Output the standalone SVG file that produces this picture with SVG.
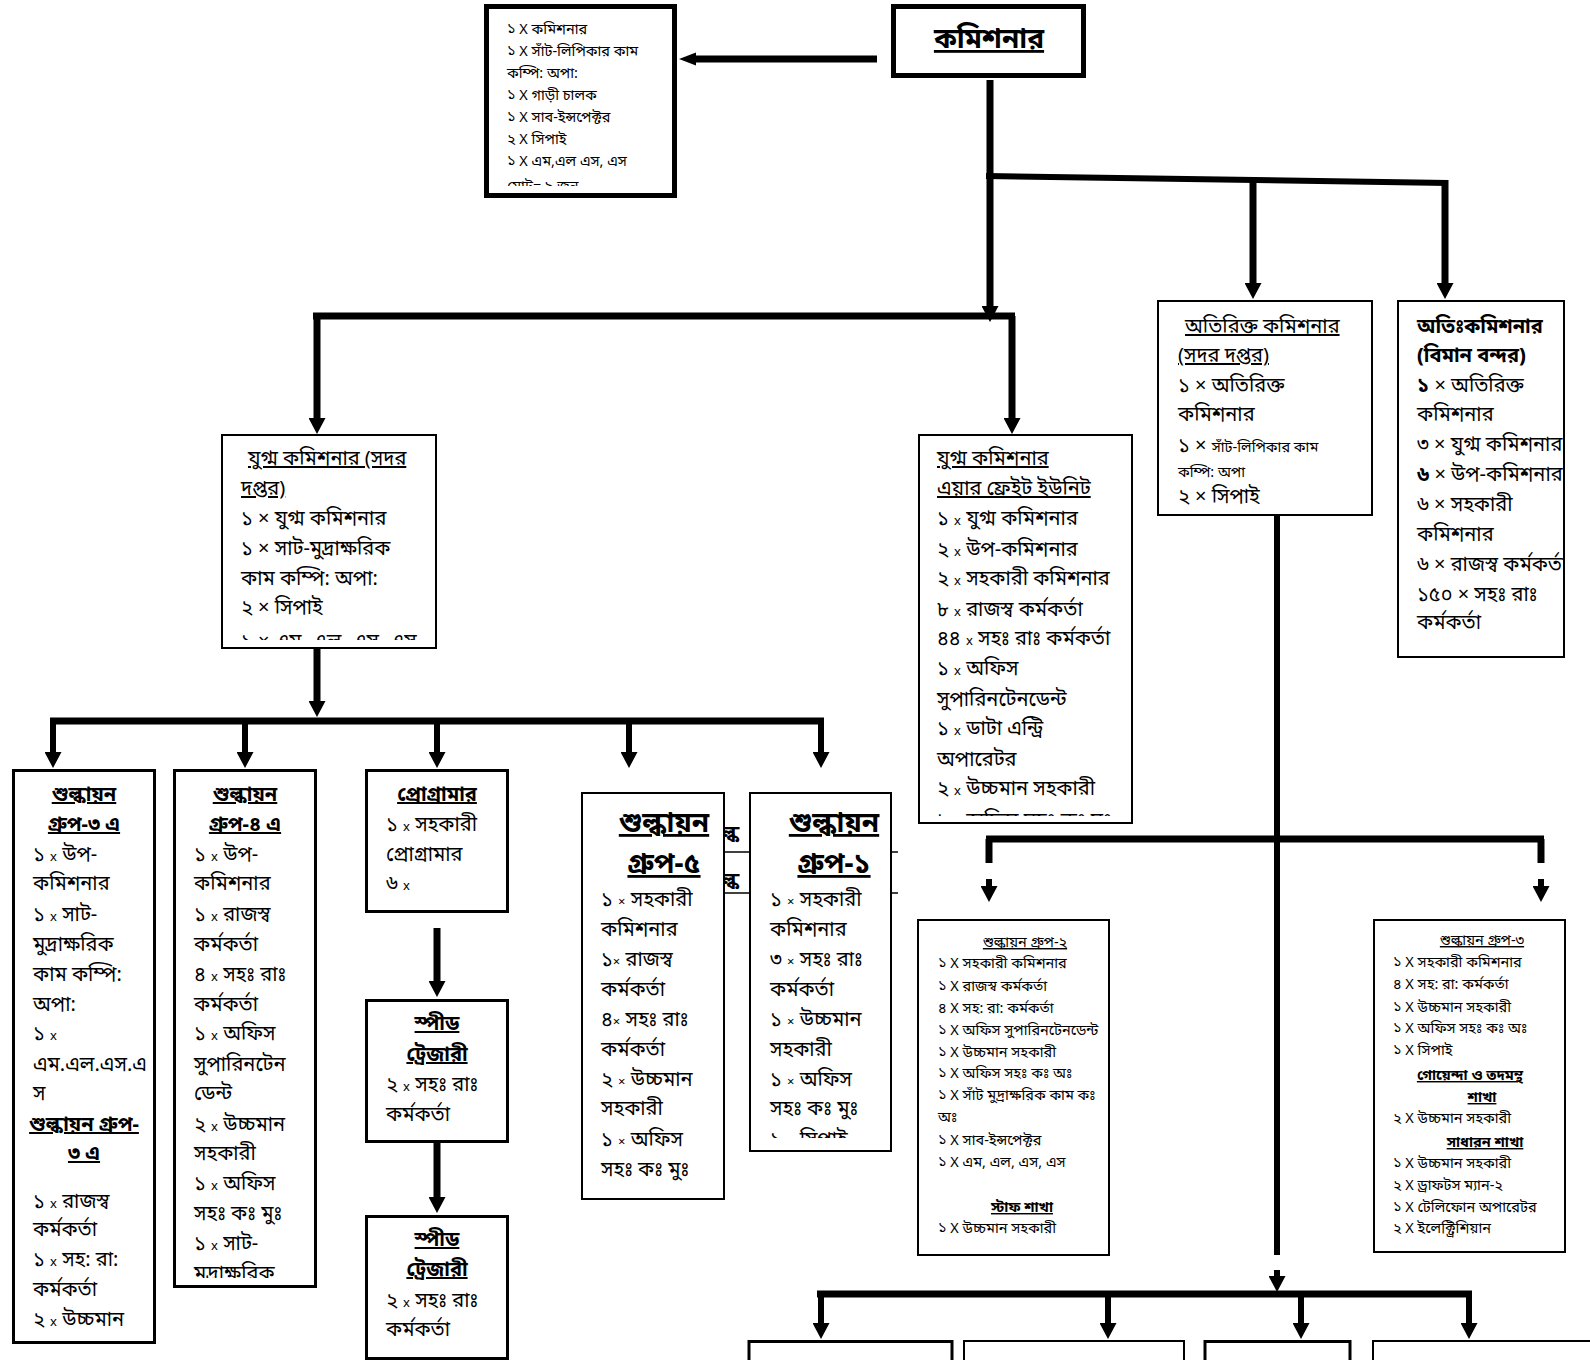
<svg xmlns="http://www.w3.org/2000/svg" width="1590" height="1360" viewBox="0 0 1590 1360">
<defs>
<style>
text{font-family:"Noto Sans Bengali","Noto Serif Bengali","Lohit Bengali","Kalpurush","SolaimanLipi","Vrinda","Noto Sans","DejaVu Sans",sans-serif;fill:#000;font-size:20px}
.sm{font-size:14.5px}
.bd{font-weight:bold}
.u{text-decoration:underline}
.m{text-anchor:middle}
.x{font-size:13px}
.big{font-size:28px;font-weight:bold;text-decoration:underline}
.box{fill:#fff;stroke:#000;stroke-width:2}
.box3{fill:#fff;stroke:#000;stroke-width:3}
.box5{fill:#fff;stroke:#000;stroke-width:5}
.ln{stroke:#000;fill:none;stroke-width:7}
.ln6{stroke:#000;fill:none;stroke-width:6}
.ah{marker-end:url(#ah)}
</style>
<marker id="ah" markerUnits="userSpaceOnUse" markerWidth="16" markerHeight="17" refX="0" refY="8.5" orient="auto" viewBox="0 0 16 17"><path d="M0,0 L16,8.5 L0,17 z" fill="#000"/></marker>
<clipPath id="cStaff"><rect x="489" y="9" width="183" height="177"/></clipPath>
<clipPath id="cYug"><rect x="222" y="435" width="214" height="205"/></clipPath>
<clipPath id="cAir"><rect x="919" y="435" width="213" height="381"/></clipPath>
<clipPath id="cOti"><rect x="1398" y="301" width="166" height="350"/></clipPath>
<clipPath id="c3a"><rect x="13" y="770" width="142" height="572"/></clipPath>
<clipPath id="c4a"><rect x="174" y="770" width="142" height="508"/></clipPath>
<clipPath id="cG1"><rect x="750" y="793" width="141" height="345"/></clipPath>
<clipPath id="cGap"><rect x="725" y="800" width="175" height="100"/></clipPath>
</defs>

<g id="connectors">
  <line x1="877" y1="59" x2="695" y2="59" class="ln" stroke-width="8"/>
  <polygon points="679,59 696,52.5 696,65.5" fill="#000"/>
  <line x1="990" y1="80" x2="990" y2="306" class="ln ah"/>
  <line x1="986" y1="176" x2="1448" y2="183" class="ln6"/>
  <line x1="1253" y1="178" x2="1253" y2="283" class="ln ah"/>
  <line x1="1445" y1="180" x2="1445" y2="283" class="ln ah"/>
  <line x1="313" y1="316" x2="1015" y2="316" class="ln"/>
  <line x1="317" y1="316" x2="317" y2="418" class="ln ah"/>
  <line x1="1012" y1="316" x2="1012" y2="418" class="ln ah"/>
  <line x1="317" y1="649" x2="317" y2="701" class="ln ah"/>
  <line x1="50" y1="721" x2="824" y2="721" class="ln"/>
  <line x1="53" y1="721" x2="53" y2="752" class="ln6 ah"/>
  <line x1="245" y1="721" x2="245" y2="752" class="ln6 ah"/>
  <line x1="437" y1="721" x2="437" y2="752" class="ln6 ah"/>
  <line x1="629" y1="721" x2="629" y2="752" class="ln6 ah"/>
  <line x1="821" y1="721" x2="821" y2="752" class="ln6 ah"/>
  <line x1="437" y1="928" x2="437" y2="981" class="ln ah"/>
  <line x1="437" y1="1143" x2="437" y2="1197" class="ln ah"/>
  <line x1="1277" y1="516" x2="1277" y2="1255" class="ln6"/>
  <line x1="986" y1="839" x2="1544" y2="839" class="ln"/>
  <line x1="989" y1="839" x2="989" y2="863" class="ln"/>
  <line x1="1541" y1="839" x2="1541" y2="863" class="ln"/>
  <line x1="989" y1="879" x2="989" y2="886" class="ln6 ah"/>
  <line x1="1541" y1="879" x2="1541" y2="886" class="ln6 ah"/>
  <line x1="1277" y1="1270" x2="1277" y2="1276" class="ln6 ah"/>
  <line x1="817" y1="1294" x2="1472" y2="1294" class="ln"/>
  <line x1="821" y1="1294" x2="821" y2="1323" class="ln6 ah"/>
  <line x1="1108" y1="1294" x2="1108" y2="1323" class="ln6 ah"/>
  <line x1="1301" y1="1294" x2="1301" y2="1323" class="ln6 ah"/>
  <line x1="1469" y1="1294" x2="1469" y2="1323" class="ln6 ah"/>
</g>

<g id="n-commissioner">
  <rect x="893.5" y="6.5" width="190" height="69" class="box5"/>
  <text x="989" y="48" class="big m">কমিশনার</text>
</g>

<g id="n-staff">
  <rect x="486.5" y="6.5" width="188" height="189" class="box5"/>
  <g clip-path="url(#cStaff)">
    <text x="507" y="34" class="sm">১ X কমিশনার</text>
    <text x="507" y="56" class="sm">১ X সাঁট-লিপিকার কাম</text>
    <text x="507" y="78" class="sm">কম্পি: অপা:</text>
    <text x="507" y="100" class="sm">১ X গাড়ী চালক</text>
    <text x="507" y="122" class="sm">১ X সাব-ইন্সপেক্টর</text>
    <text x="507" y="144" class="sm">২ X সিপাই</text>
    <text x="507" y="166" class="sm">১ X এম,এল এস, এস</text>
    <text x="507" y="191" class="sm">মোট= ৯ জন</text>
  </g>
</g>

<g id="n-yugma-hq">
  <rect x="222" y="435" width="214" height="213" class="box"/>
  <g clip-path="url(#cYug)">
    <text x="248" y="465" class="u">যুগ্ম কমিশনার (সদর</text>
    <text x="241" y="495" class="u">দপ্তর)</text>
    <text x="241" y="525">১ × যুগ্ম কমিশনার</text>
    <text x="241" y="555">১ × সাট-মুদ্রাক্ষরিক</text>
    <text x="241" y="585">কাম কম্পি: অপা:</text>
    <text x="241" y="614">২ × সিপাই</text>
    <text x="241" y="648">১ × এম, এল, এস, এস</text>
  </g>
</g>

<g id="n-yugma-air">
  <rect x="919" y="435" width="213" height="388" class="box"/>
  <g clip-path="url(#cAir)">
    <text x="937" y="465" class="u">যুগ্ম কমিশনার</text>
    <text x="937" y="495" class="u">এয়ার ফ্রেইট ইউনিট</text>
    <text x="937" y="525">১ <tspan class="x">x</tspan> যুগ্ম কমিশনার</text>
    <text x="937" y="556">২ <tspan class="x">x</tspan> উপ-কমিশনার</text>
    <text x="937" y="585">২ <tspan class="x">x</tspan> সহকারী কমিশনার</text>
    <text x="937" y="616">৮ <tspan class="x">x</tspan> রাজস্ব কর্মকর্তা</text>
    <text x="937" y="645">৪৪ <tspan class="x">x</tspan> সহঃ রাঃ কর্মকর্তা</text>
    <text x="937" y="675">১ <tspan class="x">x</tspan> অফিস</text>
    <text x="937" y="706">সুপারিনটেনডেন্ট</text>
    <text x="937" y="735">১ <tspan class="x">x</tspan> ডাটা এন্ট্রি</text>
    <text x="937" y="766">অপারেটর</text>
    <text x="937" y="795">২ <tspan class="x">x</tspan> উচ্চমান সহকারী</text>
    <text x="937" y="827">১ <tspan class="x">x</tspan> অফিস সহঃ কঃ মুঃ</text>
  </g>
</g>

<g id="n-addl-hq">
  <rect x="1158" y="301" width="214" height="214" class="box"/>
  <text x="1185" y="333" class="u">অতিরিক্ত কমিশনার</text>
  <text x="1178" y="362" class="u">(সদর দপ্তর)</text>
  <text x="1178" y="392">১ × অতিরিক্ত</text>
  <text x="1178" y="421">কমিশনার</text>
  <text x="1178" y="452">১ × <tspan class="sm">সাঁট-লিপিকার কাম</tspan></text>
  <text x="1178" y="477" class="sm">কম্পি: অপা</text>
  <text x="1178" y="503">২ × সিপাই</text>
</g>

<g id="n-addl-airport">
  <rect x="1398" y="301" width="166" height="356" class="box"/>
  <g clip-path="url(#cOti)">
    <text x="1417" y="333" class="bd">অতিঃকমিশনার</text>
    <text x="1417" y="362" class="bd">(বিমান বন্দর)</text>
    <text x="1417" y="392"><tspan class="bd">১</tspan> × অতিরিক্ত</text>
    <text x="1417" y="421">কমিশনার</text>
    <text x="1417" y="451">৩ × যুগ্ম কমিশনার</text>
    <text x="1417" y="481"><tspan class="bd">৬</tspan> × উপ-কমিশনার</text>
    <text x="1417" y="511">৬ × সহকারী</text>
    <text x="1417" y="541">কমিশনার</text>
    <text x="1417" y="571">৬ × রাজস্ব কর্মকর্তা</text>
    <text x="1417" y="601">১৫০ × সহঃ রাঃ</text>
    <text x="1417" y="629">কর্মকর্তা</text>
  </g>
</g>

<g id="n-group-3a">
  <rect x="13.5" y="770.5" width="141" height="572" class="box3"/>
  <g clip-path="url(#c3a)">
    <text x="84" y="801" class="bd u m">শুল্কায়ন</text>
    <text x="84" y="831" class="bd u m">গ্রুপ-৩ এ</text>
    <text x="33" y="861">১ <tspan class="x">x</tspan> উপ-</text>
    <text x="33" y="890">কমিশনার</text>
    <text x="33" y="921">১ <tspan class="x">x</tspan> সাট-</text>
    <text x="33" y="951">মুদ্রাক্ষরিক</text>
    <text x="33" y="981">কাম কম্পি:</text>
    <text x="33" y="1011">অপা:</text>
    <text x="33" y="1040">১ <tspan class="x">x</tspan></text>
    <text x="33" y="1071">এম.এল.এস.এ</text>
    <text x="33" y="1100">স</text>
    <text x="84" y="1131" class="bd u m">শুল্কায়ন গ্রুপ-</text>
    <text x="84" y="1160" class="bd u m">৩ এ</text>
    <text x="33" y="1208">১ <tspan class="x">x</tspan> রাজস্ব</text>
    <text x="33" y="1236">কর্মকর্তা</text>
    <text x="33" y="1266">১ <tspan class="x">x</tspan> সহ: রা:</text>
    <text x="33" y="1296">কর্মকর্তা</text>
    <text x="33" y="1326">২ <tspan class="x">x</tspan> উচ্চমান</text>
  </g>
</g>

<g id="n-group-4a">
  <rect x="174.5" y="770.5" width="141" height="516" class="box3"/>
  <g clip-path="url(#c4a)">
    <text x="245" y="801" class="bd u m">শুল্কায়ন</text>
    <text x="245" y="831" class="bd u m">গ্রুপ-৪ এ</text>
    <text x="194" y="861">১ <tspan class="x">x</tspan> উপ-</text>
    <text x="194" y="890">কমিশনার</text>
    <text x="194" y="921">১ <tspan class="x">x</tspan> রাজস্ব</text>
    <text x="194" y="951">কর্মকর্তা</text>
    <text x="194" y="981">৪ <tspan class="x">x</tspan>  সহঃ রাঃ</text>
    <text x="194" y="1011">কর্মকর্তা</text>
    <text x="194" y="1040">১ <tspan class="x">x</tspan> অফিস</text>
    <text x="194" y="1071">সুপারিনটেন</text>
    <text x="194" y="1100">ডেন্ট</text>
    <text x="194" y="1131">২ <tspan class="x">x</tspan> উচ্চমান</text>
    <text x="194" y="1160">সহকারী</text>
    <text x="194" y="1190">১ <tspan class="x">x</tspan> অফিস</text>
    <text x="194" y="1220">সহঃ কঃ মুঃ</text>
    <text x="194" y="1250">১ <tspan class="x">x</tspan> সাট-</text>
    <text x="194" y="1280">মুদ্রাক্ষরিক</text>
  </g>
</g>

<g id="n-programmer">
  <rect x="366.5" y="770.5" width="141" height="141" class="box3"/>
  <text x="437" y="801" class="bd u m">প্রোগ্রামার</text>
  <text x="386" y="831">১ <tspan class="x">x</tspan> সহকারী</text>
  <text x="386" y="861">প্রোগ্রামার</text>
  <text x="386" y="890">৬ <tspan class="x">x</tspan></text>
</g>

<g id="n-speed-1">
  <rect x="366.5" y="1000.5" width="141" height="141" class="box3"/>
  <text x="437" y="1030" class="bd u m">স্পীড</text>
  <text x="437" y="1061" class="bd u m">ট্রেজারী</text>
  <text x="386" y="1091">২ <tspan class="x">x</tspan> সহঃ রাঃ</text>
  <text x="386" y="1121">কর্মকর্তা</text>
</g>

<g id="n-speed-2">
  <rect x="366.5" y="1216.5" width="141" height="142" class="box3"/>
  <text x="437" y="1246" class="bd u m">স্পীড</text>
  <text x="437" y="1276" class="bd u m">ট্রেজারী</text>
  <text x="386" y="1307">২ <tspan class="x">x</tspan> সহঃ রাঃ</text>
  <text x="386" y="1336">কর্মকর্তা</text>
</g>

<g id="hidden-fragment" clip-path="url(#cGap)">
  <text x="722" y="840" font-size="26" font-weight="bold">ল্ক</text>
  <text x="722" y="887" font-size="26" font-weight="bold">ল্ক</text>
  <line x1="720" y1="852" x2="898" y2="852" stroke="#000" stroke-width="1.5"/>
  <line x1="720" y1="893" x2="898" y2="893" stroke="#000" stroke-width="1.5"/>
</g>

<g id="n-group-5">
  <rect x="582" y="793" width="142" height="406" class="box"/>
  <text x="664" y="832" class="big m">শুল্কায়ন</text>
  <text x="664" y="873" class="big m">গ্রুপ-৫</text>
  <text x="601" y="906">১ <tspan class="x">×</tspan> সহকারী</text>
  <text x="601" y="936">কমিশনার</text>
  <text x="601" y="966">১<tspan class="x">×</tspan> রাজস্ব</text>
  <text x="601" y="996">কর্মকর্তা</text>
  <text x="601" y="1026">৪<tspan class="x">×</tspan> সহঃ রাঃ</text>
  <text x="601" y="1056">কর্মকর্তা</text>
  <text x="601" y="1086">২ <tspan class="x">×</tspan> উচ্চমান</text>
  <text x="601" y="1115">সহকারী</text>
  <text x="601" y="1146">১ <tspan class="x">×</tspan> অফিস</text>
  <text x="601" y="1176">সহঃ কঃ মুঃ</text>
</g>

<g id="n-group-1">
  <rect x="750" y="793" width="141" height="358" class="box"/>
  <text x="834" y="832" class="big m">শুল্কায়ন</text>
  <text x="834" y="873" class="big m">গ্রুপ-১</text>
  <g clip-path="url(#cG1)">
    <text x="770" y="906">১ <tspan class="x">×</tspan> সহকারী</text>
    <text x="770" y="936">কমিশনার</text>
    <text x="770" y="966">৩ <tspan class="x">×</tspan> সহঃ রাঃ</text>
    <text x="770" y="996">কর্মকর্তা</text>
    <text x="770" y="1026">১ <tspan class="x">×</tspan> উচ্চমান</text>
    <text x="770" y="1056">সহকারী</text>
    <text x="770" y="1086">১ <tspan class="x">×</tspan> অফিস</text>
    <text x="770" y="1115">সহঃ কঃ মুঃ</text>
    <text x="770" y="1146">১ <tspan class="x">×</tspan> সিপাই</text>
  </g>
</g>

<g id="n-group-2">
  <rect x="918" y="920" width="191" height="335" class="box"/>
  <text x="1025" y="947" class="sm u m">শুল্কায়ন গ্রুপ-২</text>
  <text x="938" y="968" class="sm">১ X সহকারী কমিশনার</text>
  <text x="938" y="991" class="sm">১ X রাজস্ব কর্মকর্তা</text>
  <text x="938" y="1013" class="sm">৪ X সহ: রা: কর্মকর্তা</text>
  <text x="938" y="1035" class="sm">১ X অফিস সুপারিনটেনডেন্ট</text>
  <text x="938" y="1057" class="sm">১ X উচ্চমান সহকারী</text>
  <text x="938" y="1078" class="sm">১ X অফিস সহঃ কঃ অঃ</text>
  <text x="938" y="1100" class="sm">১ X সাঁট মুদ্রাক্ষরিক কাম কঃ</text>
  <text x="938" y="1122" class="sm">অঃ</text>
  <text x="938" y="1145" class="sm">১ X সাব-ইন্সপেক্টর</text>
  <text x="938" y="1167" class="sm">১ X এম, এল, এস, এস</text>
  <text x="1022" y="1212" class="sm bd u m">স্টাফ শাখা</text>
  <text x="938" y="1233" class="sm">১ X উচ্চমান সহকারী</text>
</g>

<g id="n-group-3">
  <rect x="1374" y="920" width="191" height="332" class="box"/>
  <text x="1482" y="945" class="sm u m">শুল্কায়ন গ্রুপ-৩</text>
  <text x="1393" y="967" class="sm">১ X সহকারী কমিশনার</text>
  <text x="1393" y="989" class="sm">৪ X সহ: রা: কর্মকর্তা</text>
  <text x="1393" y="1012" class="sm">১ X উচ্চমান সহকারী</text>
  <text x="1393" y="1033" class="sm">১ X অফিস সহঃ কঃ অঃ</text>
  <text x="1393" y="1055" class="sm">১ X সিপাই</text>
  <text x="1470" y="1080" class="sm bd u m">গোয়েন্দা ও তদমন্থ</text>
  <text x="1482" y="1102" class="sm bd u m">শাখা</text>
  <text x="1393" y="1123" class="sm">২ X উচ্চমান সহকারী</text>
  <text x="1485" y="1147" class="sm bd u m">সাধারন শাখা</text>
  <text x="1393" y="1168" class="sm">১ X উচ্চমান সহকারী</text>
  <text x="1393" y="1190" class="sm">২ X ড্রাফটস ম্যান-২</text>
  <text x="1393" y="1212" class="sm">১ X টেলিফোন অপারেটর</text>
  <text x="1393" y="1233" class="sm">২ X ইলেক্ট্রিশিয়ান</text>
</g>

<g id="n-bottom-1"><rect x="749" y="1341.5" width="203" height="30" class="box3"/></g>
<g id="n-bottom-2"><rect x="964" y="1341" width="220" height="30" class="box"/></g>
<g id="n-bottom-3"><rect x="1205" y="1341.5" width="145" height="30" class="box3"/></g>
<g id="n-bottom-4"><rect x="1373" y="1341" width="230" height="30" class="box"/></g>
</svg>
